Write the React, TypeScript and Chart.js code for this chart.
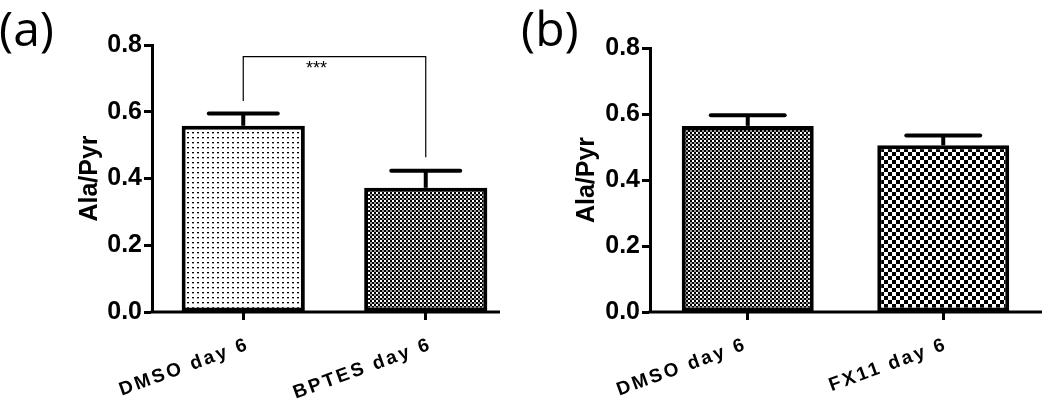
import React, { useEffect, useRef } from "react";
import { Chart, registerables } from "chart.js";

Chart.register(...registerables);

// ---------- data ----------
const panelLabels = ["(a)", "(b)"];
const yAxisTitle = "Ala/Pyr";
const yTickValues = [0, 0.2, 0.4, 0.6, 0.8];

const categoriesA = ["DMSO day 6", "BPTES day 6"];
const meansA = [0.558, 0.372];
const errorsA = [0.037, 0.051];

const categoriesB = ["DMSO day 6", "FX11 day 6"];
const meansB = [0.564, 0.505];
const errorsB = [0.032, 0.03];

const bracketLevelA = 0.765;
const bracketEndsA = [0.632, 0.464];
const significanceA = "***";

// ---------- patterns ----------
function makePattern(ctx: CanvasRenderingContext2D, kind: string): CanvasPattern | string {
  const c = document.createElement("canvas");
  const g = c.getContext("2d")!;
  if (kind === "dots") {
    c.width = 5;
    c.height = 5;
    g.fillStyle = "#fff";
    g.fillRect(0, 0, 5, 5);
    g.fillStyle = "#000";
    g.fillRect(2, 2, 2, 1);
    g.fillStyle = "#aaa";
    g.fillRect(2, 3, 2, 1);
  } else if (kind === "fine") {
    c.width = 4;
    c.height = 4;
    g.fillStyle = "#000";
    g.fillRect(0, 0, 4, 4);
    g.fillStyle = "#fff";
    g.fillRect(0, 0, 2, 2);
    g.fillStyle = "#9a9a9a";
    g.fillRect(2, 2, 2, 2);
  } else {
    c.width = 8;
    c.height = 8;
    g.fillStyle = "#000";
    g.fillRect(0, 0, 8, 8);
    g.fillStyle = "#fff";
    g.fillRect(0, 0, 4, 4);
    g.fillRect(4, 4, 4, 4);
  }
  return ctx.createPattern(c, "repeat") || "#888";
}

type PanelProps = {
  label: string;
  categories: string[];
  means: number[];
  errors: number[];
  patterns: string[];
  width: number;
  left: number;
  yAxisWidth: number;
  padTop: number;
  padRight: number;
  axisEnd: number;
  titlePad: number;
  labelShift: number[];
  bracketLevel?: number;
  bracketEnds?: number[];
  significance?: string;
};

function Panel(props: PanelProps) {
  const ref = useRef<HTMLCanvasElement>(null);
  useEffect(() => {
    const canvas = ref.current!;
    const ctx = canvas.getContext("2d")!;
    const fills = props.patterns.map((p) => makePattern(ctx, p));

    const decor = {
      id: "decor",
      afterDatasetsDraw(chart: any) {
        const c = chart.ctx as CanvasRenderingContext2D;
        const xs = chart.scales.x;
        const ys = chart.scales.y;
        const area = chart.chartArea;
        const meta = chart.getDatasetMeta(0);
        c.save();
        c.strokeStyle = "#000";
        c.fillStyle = "#000";
        // error bars (upper only)
        meta.data.forEach((el: any, i: number) => {
          const x = el.x;
          const yTop = el.y;
          const w = el.width;
          const yErr = ys.getPixelForValue(props.means[i] + props.errors[i]);
          c.lineWidth = 4;
          c.lineCap = "butt";
          c.beginPath();
          c.moveTo(x, yTop);
          c.lineTo(x, yErr);
          c.stroke();
          c.lineCap = "round";
          c.beginPath();
          c.moveTo(x - w * 0.28, yErr);
          c.lineTo(x + w * 0.28, yErr);
          c.stroke();
        });
        // x axis line
        c.lineCap = "butt";
        c.lineWidth = 3;
        c.beginPath();
        c.moveTo(area.left - 1.5, area.bottom);
        c.lineTo(props.axisEnd, area.bottom);
        c.stroke();
        // x labels
        c.font = "bold 19px 'Liberation Sans', Arial, sans-serif";
        (c as any).letterSpacing = "2.6px";
        c.textAlign = "right";
        c.textBaseline = "top";
        props.categories.forEach((cat, i) => {
          const x = xs.getPixelForValue(i) + props.labelShift[i];
          c.save();
          c.translate(x, area.bottom + 23);
          c.rotate((-20 * Math.PI) / 180);
          c.fillText(cat, 0, 0);
          c.restore();
        });
        (c as any).letterSpacing = "0px";
        // significance bracket
        if (props.bracketLevel !== undefined && props.bracketEnds) {
          const x1 = xs.getPixelForValue(0);
          const x2 = xs.getPixelForValue(1);
          const yb = ys.getPixelForValue(props.bracketLevel);
          c.lineWidth = 1.2;
          c.beginPath();
          c.moveTo(x1, ys.getPixelForValue(props.bracketEnds[0]));
          c.lineTo(x1, yb);
          c.lineTo(x2, yb);
          c.lineTo(x2, ys.getPixelForValue(props.bracketEnds[1]));
          c.stroke();
          c.font = "18px 'Liberation Sans', Arial, sans-serif";
          c.textAlign = "center";
          c.textBaseline = "top";
          c.fillText(props.significance || "", (x1 + x2) / 2 - 18, yb + 3);
        }
        // panel label
        c.font = "48px 'Open Sans', sans-serif";
        c.textAlign = "left";
        c.textBaseline = "alphabetic";
        c.fillText(props.label, props.left === 0 ? -1 : 1, 46);
        c.restore();
      },
    };

    const chart = new Chart(canvas, {
      type: "bar",
      data: {
        labels: props.categories,
        datasets: [
          {
            data: props.means,
            backgroundColor: fills as any,
            borderColor: "#000",
            borderWidth: 4,
            borderSkipped: false,
            barPercentage: 0.675,
            categoryPercentage: 1,
          },
        ],
      },
      options: {
        responsive: false,
        animation: false,
        layout: { padding: { left: 0, right: props.padRight, top: props.padTop, bottom: 0 } },
        plugins: { legend: { display: false }, tooltip: { enabled: false } },
        scales: {
          x: {
            type: "category",
            offset: true,
            border: { display: false },
            grid: {
              display: true,
              offset: false,
              drawOnChartArea: false,
              drawTicks: true,
              tickLength: 8,
              tickWidth: 3,
              color: "#000",
            },
            ticks: { display: false },
            afterFit: (s: any) => {
              s.height = 400 - 312;
            },
          },
          y: {
            min: 0,
            max: 0.8,
            afterBuildTicks: (s: any) => {
              s.ticks = yTickValues.map((v) => ({ value: v }));
            },
            border: { display: true, width: 3, color: "#000" },
            grid: {
              drawOnChartArea: false,
              drawTicks: true,
              tickLength: 8,
              tickWidth: 3,
              color: "#000",
            },
            ticks: {
              padding: 2,
              color: "#000",
              font: { family: "'Liberation Sans', Arial, sans-serif", size: 25, weight: "bold" },
              callback: (v: any) => Number(v).toFixed(1),
            },
            title: {
              display: true,
              text: yAxisTitle,
              color: "#000",
              font: { family: "'Liberation Sans', Arial, sans-serif", size: 25, weight: "bold" },
              padding: { top: props.titlePad, bottom: 0 },
            },
            afterFit: (s: any) => {
              s.width = props.yAxisWidth;
            },
          },
        },
      },
      plugins: [decor],
    });
    return () => chart.destroy();
  }, []);
  return (
    <canvas
      ref={ref}
      width={props.width}
      height={400}
      style={{ position: "absolute", left: props.left, top: 0, width: props.width, height: 400 }}
    />
  );
}

export default function App() {
  return (
    <div style={{ position: "fixed", left: 0, top: 0, width: 1050, height: 400, background: "#fff" }}>
      <Panel
        label={panelLabels[0]}
        categories={categoriesA}
        means={meansA}
        errors={errorsA}
        patterns={["dots", "fine"]}
        width={520}
        left={0}
        yAxisWidth={152}
        padTop={45}
        padRight={3}
        axisEnd={500}
        titlePad={75}
        labelShift={[2, 2]}
        bracketLevel={bracketLevelA}
        bracketEnds={bracketEndsA}
        significance={significanceA}
      />
      <Panel
        label={panelLabels[1]}
        categories={categoriesB}
        means={meansB}
        errors={errorsB}
        patterns={["fine", "coarse"]}
        width={530}
        left={520}
        yAxisWidth={130}
        padTop={48}
        padRight={9}
        axisEnd={522}
        titlePad={52}
        labelShift={[-5, 0]}
      />
    </div>
  );
}
